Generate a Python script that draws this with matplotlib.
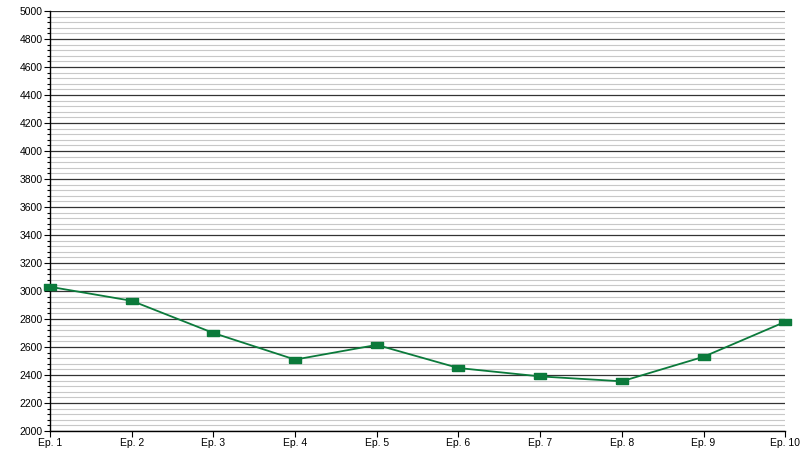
import matplotlib
matplotlib.use('Agg')
import matplotlib.pyplot as plt
from matplotlib.ticker import MultipleLocator

episodes = ['Ep. 1', 'Ep. 2', 'Ep. 3', 'Ep. 4', 'Ep. 5',
            'Ep. 6', 'Ep. 7', 'Ep. 8', 'Ep. 9', 'Ep. 10']
viewers = [3030, 2930, 2700, 2510, 2615, 2450, 2390, 2355, 2530, 2780]

LINE_COLOR = '#0b7a3b'
# flat rectangle marker, wider than tall
RECT_MARKER = [(-1, -0.55), (1, -0.55), (1, 0.55), (-1, 0.55), (-1, -0.55)]

plt.rcParams['font.family'] = ['Liberation Sans', 'DejaVu Sans']

fig = plt.figure(figsize=(8, 4.5), dpi=100)
ax = fig.add_axes([0.0625, 0.0422, 0.919, 0.9334])

x = list(range(len(episodes)))
ax.plot(x, viewers, color=LINE_COLOR, linewidth=1.3, marker=RECT_MARKER,
        markersize=8, markerfacecolor=LINE_COLOR, markeredgecolor=LINE_COLOR,
        zorder=5, clip_on=False)

ax.set_xlim(0, len(episodes) - 1)
ax.set_ylim(2000, 5000)
ax.set_xticks(x)
ax.set_xticklabels(episodes)
ax.yaxis.set_major_locator(MultipleLocator(200))
ax.yaxis.set_minor_locator(MultipleLocator(40))

ax.grid(True, which='major', axis='y', color='#333333', linewidth=0.9)
ax.grid(True, which='minor', axis='y', color='#c8c8c8', linewidth=0.8)
ax.set_axisbelow(True)

for side in ['top', 'right']:
    ax.spines[side].set_visible(False)
for side in ['left', 'bottom']:
    ax.spines[side].set_color('black')
    ax.spines[side].set_linewidth(1.0)

ax.tick_params(axis='both', which='major', labelsize=7.5, length=4, width=0.8,
               colors='black', pad=1)
ax.tick_params(axis='y', which='minor', length=2, width=0.8)

fig.savefig('out.png', dpi=100)
